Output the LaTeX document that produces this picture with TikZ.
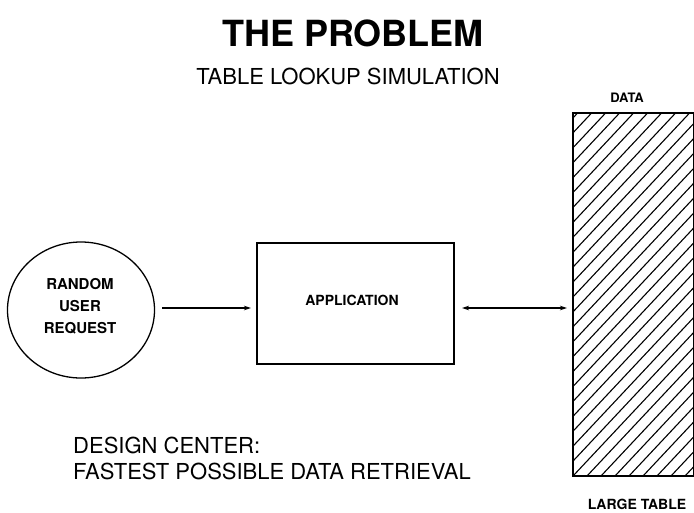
\documentclass[tikz,border=0pt]{standalone}
\usepackage{fontspec}
\setmainfont{TeX Gyre Heros}
\usepackage{tikz}
\usetikzlibrary{
	arrows.meta,
	positioning,
	shapes.geometric
}

\begin{document}
\begin{tikzpicture}[x=1pt, y=-1pt,
		>={Stealth[length=7pt, width=4.5pt]},
		label/.style={inner sep=0pt, font=\bfseries\fontsize{14}{17}\selectfont, align=center},
		plain/.style={inner sep=0pt, font=\fontsize{22}{26}\selectfont},
		conn/.style={line width=1.4pt}
	]
		\useasboundingbox (0,0) rectangle (694,512);
		
		% titles
		\node[inner sep=0pt, font=\bfseries\fontsize{36}{40}\selectfont] (title) at (353,33) {THE PROBLEM};
		\node[plain] (sub) at (348,76) {TABLE LOOKUP SIMULATION};
		
		% circle and box
		\node[draw, line width=1.3pt, ellipse, minimum width=147pt, minimum height=136pt, inner sep=0pt] (user) at (81,310) {};
		\node[label, font=\bfseries\fontsize{15}{22}\selectfont] (usertxt) at (80,306) {RANDOM\\USER\\REQUEST};
		\node[draw, line width=1.6pt, minimum width=197pt, minimum height=121pt, inner sep=0pt] (app) at (355.5,303.5) {};
		\node[label] (apptxt) at (352,300) {APPLICATION};
		
		% large table
		\coordinate (T1) at (573,113);
		\coordinate (T2) at (694,476);
		\begin{scope}
			\clip (T1) rectangle (T2);
			\foreach \k in {-28,...,10}
				\draw[line width=1.1pt] (573+14*\k,476) -- ++(380,-405);
		\end{scope}
		\draw[line width=1.8pt] (T1) rectangle (T2);
		\node[label, font=\bfseries\fontsize{13}{15}\selectfont] (data) at (627,98) {DATA};
		\node[label, font=\bfseries\fontsize{14}{16}\selectfont] (large) at (637,504) {LARGE TABLE};
		
		% connectors
		\coordinate (a1) at (162,308);
		\coordinate (a2) at (251,308);
		\coordinate (b1) at (462,308);
		\coordinate (b2) at (567,308);
		\draw[conn, ->] (a1) -- (a2);
		\draw[conn, <->] (b1) -- (b2);
		
		% design notes
		\node[plain, anchor=west] (design) at (73,445) {DESIGN CENTER:};
		\node[plain, anchor=west] (fast) at (73,471) {FASTEST POSSIBLE DATA RETRIEVAL};
	\end{tikzpicture}
\end{document}
